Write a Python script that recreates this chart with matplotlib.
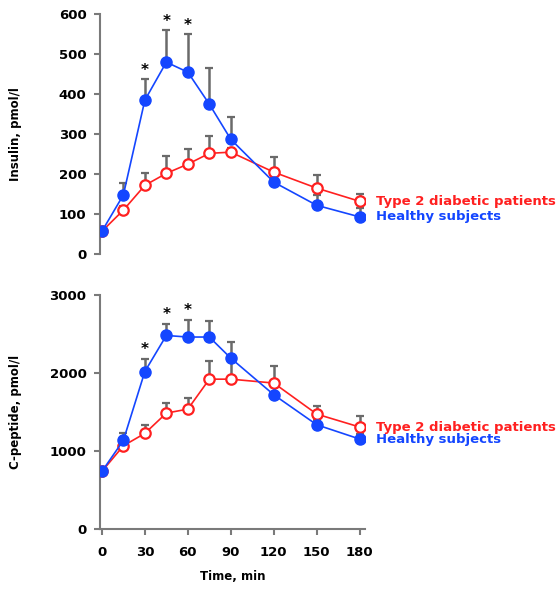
import matplotlib
matplotlib.use("Agg")
import matplotlib.pyplot as plt
import numpy as np

# Time points (min)
time = [0, 15, 30, 45, 60, 75, 90, 120, 150, 180]

# Insulin, pmol/l
insulin_healthy = [57, 148, 385, 480, 455, 375, 287, 180, 122, 93]
insulin_healthy_err = [0, 30, 52, 80, 95, 90, 55, 10, 25, 22]
insulin_t2d = [57, 110, 172, 202, 225, 252, 255, 205, 165, 132]
insulin_t2d_err = [0, 10, 30, 43, 37, 43, 10, 38, 32, 18]

# C-peptide, pmol/l
cpep_healthy = [737, 1135, 2018, 2480, 2460, 2460, 2189, 1720, 1335, 1152]
cpep_healthy_err = [0, 90, 160, 150, 220, 205, 205, 105, 60, 60]
cpep_t2d = [737, 1066, 1225, 1485, 1536, 1920, 1920, 1870, 1472, 1306]
cpep_t2d_err = [0, 60, 105, 130, 140, 235, 250, 225, 105, 145]

star_times = [30, 45, 60]

BLUE = '#1446ff'
RED = '#ff2020'
GREY = '#7a7a7a'
ERR = '#6a6a6a'

plt.rcParams['font.family'] = 'DejaVu Sans'
plt.rcParams['font.weight'] = 'bold'
plt.rcParams['axes.labelweight'] = 'bold'

fig = plt.figure(figsize=(5.58, 5.91), dpi=100)
ax1 = fig.add_axes([0.180, 0.570, 0.475, 0.406])
ax2 = fig.add_axes([0.180, 0.105, 0.475, 0.396])


def draw_panel(ax, healthy, healthy_err, t2d, t2d_err, ymax, ystep, ylabel, star_off):
    t = np.array(time)
    # error bars (upper only)
    ax.errorbar(t, t2d, yerr=[np.zeros(len(t)), t2d_err], fmt='none',
                ecolor=ERR, elinewidth=1.8, capsize=3.2, capthick=1.6, zorder=1)
    ax.errorbar(t, healthy, yerr=[np.zeros(len(t)), healthy_err], fmt='none',
                ecolor=ERR, elinewidth=1.8, capsize=3.2, capthick=1.6, zorder=1)
    ax.plot(t, t2d, color=RED, lw=1.2, marker='o', markersize=7.5,
            markerfacecolor='white', markeredgecolor=RED, markeredgewidth=1.6, zorder=3)
    ax.plot(t, healthy, color=BLUE, lw=1.2, marker='o', markersize=8,
            markerfacecolor=BLUE, markeredgecolor=BLUE, zorder=4)

    for st in star_times:
        i = time.index(st)
        ax.text(st, healthy[i] + healthy_err[i] + star_off, '*', ha='center',
                va='bottom', fontsize=11, color='black')

    ax.text(1.04, t2d[-1] / ymax, 'Type 2 diabetic patients', color=RED,
            transform=ax.transAxes, fontsize=9.5, va='center', ha='left')
    ax.text(1.04, healthy[-1] / ymax, 'Healthy subjects', color=BLUE,
            transform=ax.transAxes, fontsize=9.5, va='center', ha='left')

    ax.set_ylim(0, ymax)
    ax.set_yticks(np.arange(0, ymax + 1, ystep))
    ax.set_xlim(-1, 184)
    ax.set_ylabel(ylabel, fontsize=8.5, fontweight='bold')
    ax.yaxis.set_label_coords(-0.295, 0.5)
    for side in ['top', 'right']:
        ax.spines[side].set_visible(False)
    ax.spines['left'].set_color(GREY)
    ax.spines['left'].set_linewidth(1.5)
    ax.spines['bottom'].set_color(GREY)
    ax.spines['bottom'].set_linewidth(1.5)
    ax.tick_params(axis='y', colors=GREY, labelcolor='black', length=4,
                   width=1.5, labelsize=9.5, pad=6)
    for lbl in ax.get_yticklabels():
        lbl.set_fontweight('bold')


draw_panel(ax1, insulin_healthy, insulin_healthy_err, insulin_t2d, insulin_t2d_err,
           600, 100, 'Insulin, pmol/l', 4)
draw_panel(ax2, cpep_healthy, cpep_healthy_err, cpep_t2d, cpep_t2d_err,
           3000, 1000, 'C-peptide, pmol/l', 20)

ax1.spines['bottom'].set_visible(False)
ax1.set_xticks([])

ax2.set_xticks(np.arange(0, 181, 30))
ax2.tick_params(axis='x', colors=GREY, labelcolor='black', length=4,
                width=1.5, labelsize=9.5, pad=8)
for lbl in ax2.get_xticklabels():
    lbl.set_fontweight('bold')
ax2.set_xlabel('Time, min', fontsize=8.5, fontweight='bold', labelpad=8)

fig.savefig('out.png', dpi=100)
